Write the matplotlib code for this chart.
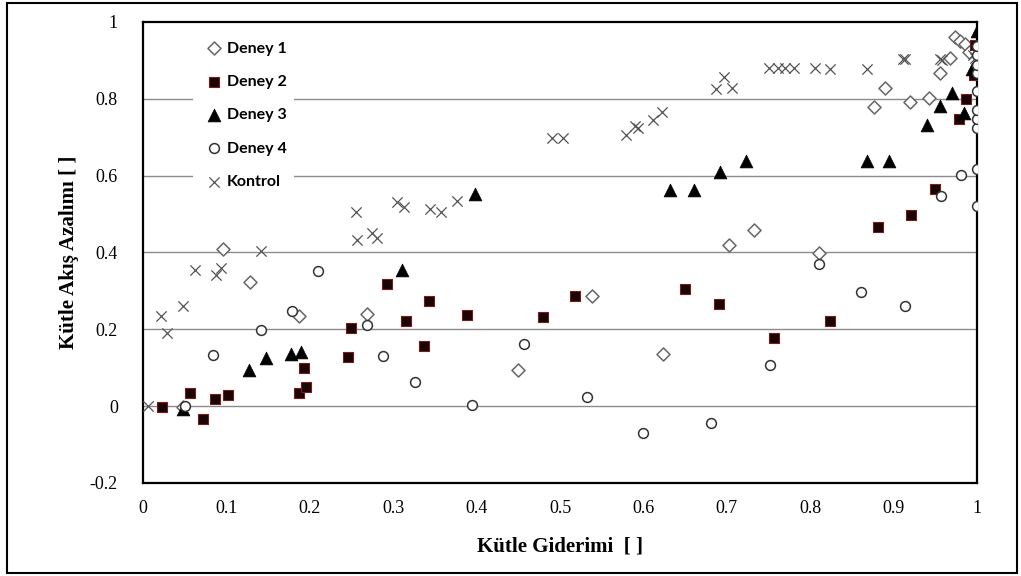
import matplotlib.pyplot as plt
from matplotlib.patches import Rectangle

# Deney 1 (open diamonds)
d1_x = [0.048, 0.096, 0.128, 0.187, 0.269, 0.450, 0.538, 0.624, 0.702, 0.733,
        0.811, 0.877, 0.889, 0.919, 0.942, 0.956, 0.968, 0.974, 0.980, 0.986, 0.990]
d1_y = [-0.003, 0.410, 0.324, 0.234, 0.241, 0.095, 0.286, 0.136, 0.419, 0.458,
        0.398, 0.778, 0.828, 0.792, 0.801, 0.868, 0.906, 0.960, 0.950, 0.943, 0.922]

# Deney 2 (filled squares)
d2_x = [0.023, 0.057, 0.072, 0.086, 0.102, 0.187, 0.193, 0.196, 0.246, 0.250,
        0.292, 0.315, 0.337, 0.343, 0.389, 0.479, 0.518, 0.650, 0.691, 0.756,
        0.824, 0.881, 0.921, 0.950, 0.978, 0.987, 0.996, 0.998]
d2_y = [-0.003, 0.035, -0.033, 0.019, 0.028, 0.035, 0.100, 0.050, 0.129, 0.204,
        0.317, 0.222, 0.157, 0.274, 0.236, 0.232, 0.286, 0.305, 0.266, 0.177,
        0.222, 0.465, 0.498, 0.564, 0.748, 0.800, 0.861, 0.940]

# Deney 3 (filled triangles)
d3_x = [0.048, 0.127, 0.147, 0.178, 0.190, 0.311, 0.398, 0.632, 0.661, 0.692,
        0.723, 0.868, 0.894, 0.940, 0.955, 0.970, 0.984, 0.994, 1.000]
d3_y = [-0.008, 0.093, 0.126, 0.135, 0.140, 0.355, 0.551, 0.563, 0.563, 0.610,
        0.637, 0.637, 0.637, 0.732, 0.781, 0.814, 0.764, 0.878, 0.976]

# Deney 4 (open circles)
d4_x = [0.050, 0.084, 0.141, 0.179, 0.210, 0.269, 0.288, 0.326, 0.395, 0.457,
        0.532, 0.600, 0.681, 0.752, 0.810, 0.861, 0.913, 0.957, 0.981,
        1.0, 1.0, 1.0, 1.0, 1.0, 1.0, 1.0, 1.0, 1.0, 1.0]
d4_y = [0.000, 0.133, 0.198, 0.247, 0.351, 0.211, 0.131, 0.062, 0.002, 0.161,
        0.023, -0.070, -0.043, 0.107, 0.370, 0.298, 0.260, 0.547, 0.601,
        0.522, 0.616, 0.725, 0.747, 0.770, 0.820, 0.866, 0.888, 0.914, 0.938]

# Kontrol (crosses)
k_x = [0.006, 0.022, 0.029, 0.048, 0.062, 0.087, 0.094, 0.142, 0.255, 0.257,
       0.275, 0.281, 0.304, 0.313, 0.344, 0.357, 0.376, 0.490, 0.504, 0.579,
       0.590, 0.594, 0.611, 0.622, 0.687, 0.696, 0.706, 0.750, 0.761, 0.770,
       0.780, 0.806, 0.824, 0.868, 0.911, 0.914, 0.955, 0.958, 0.995, 0.998]
k_y = [0.000, 0.235, 0.190, 0.260, 0.355, 0.340, 0.360, 0.405, 0.506, 0.433,
       0.450, 0.438, 0.530, 0.517, 0.514, 0.506, 0.535, 0.697, 0.697, 0.705,
       0.730, 0.723, 0.744, 0.765, 0.825, 0.856, 0.828, 0.879, 0.879, 0.879,
       0.879, 0.879, 0.877, 0.877, 0.903, 0.903, 0.903, 0.900, 0.915, 0.905]

y_ticks = [-0.2, 0, 0.2, 0.4, 0.6, 0.8, 1]
y_labels = ['-0.2', '0', '0.2', '0.4', '0.6', '0.8', '1']
x_ticks = [0, 0.1, 0.2, 0.3, 0.4, 0.5, 0.6, 0.7, 0.8, 0.9, 1]
x_labels = ['0', '0.1', '0.2', '0.3', '0.4', '0.5', '0.6', '0.7', '0.8', '0.9', '1']

fig = plt.figure(figsize=(10.21, 5.76), dpi=100)
ax = fig.add_axes([0.140, 0.1615, 0.817, 0.8005])

# outer chart frame
fig.patches.append(Rectangle((0.007, 0.005), 0.989, 0.99, transform=fig.transFigure,
                             fill=False, edgecolor='black', linewidth=1.5))

ax.scatter(d1_x, d1_y, marker='D', s=44, facecolors='white', edgecolors='#666666',
           linewidths=1.1, label='Deney 1', zorder=3)
ax.scatter(d2_x, d2_y, marker='s', s=50, facecolors='#1a0505', edgecolors='#7a1a1a',
           linewidths=0.8, label='Deney 2', zorder=3)
ax.scatter(d3_x, d3_y, marker='^', s=85, facecolors='black', edgecolors='black',
           linewidths=0.5, label='Deney 3', zorder=3)
ax.scatter(d4_x, d4_y, marker='o', s=50, facecolors='white', edgecolors='#333333',
           linewidths=1.1, label='Deney 4', zorder=4)
ax.scatter(k_x, k_y, marker='x', s=55, color='#555555', linewidths=0.9,
           label='Kontrol', zorder=3)

ax.set_xlim(0, 1)
ax.set_ylim(-0.2, 1)
ax.set_xticks(x_ticks)
ax.set_xticklabels(x_labels)
ax.set_yticks(y_ticks)
ax.set_yticklabels(y_labels)
ax.tick_params(length=0, labelsize=13, pad=12)
ax.tick_params(axis='y', pad=18)
for lab in ax.get_xticklabels() + ax.get_yticklabels():
    lab.set_family('Liberation Serif')

for yv in [0, 0.2, 0.4, 0.6, 0.8]:
    ax.axhline(yv, color='#8c8c8c', linewidth=1, zorder=1)

for sp in ax.spines.values():
    sp.set_linewidth(1.6)
    sp.set_color('black')

ax.set_xlabel('Kütle Giderimi  [ ]', family='Liberation Serif', fontweight='bold',
              fontsize=15, labelpad=14)
ax.set_ylabel('Kütle Akış Azalımı [ ]', family='Liberation Serif', fontweight='bold',
              fontsize=15, labelpad=8)

leg = ax.legend(loc='upper left', bbox_to_anchor=(0.06, 0.975), frameon=True,
                facecolor='white', edgecolor='none', framealpha=1, fancybox=False,
                prop={'family': 'Lato', 'weight': 'bold', 'size': 11.5},
                labelspacing=1.2, handletextpad=0.0, handlelength=1.6,
                borderpad=0.5, borderaxespad=0)
leg.set_zorder(2)

fig.savefig('out.png', dpi=100)
